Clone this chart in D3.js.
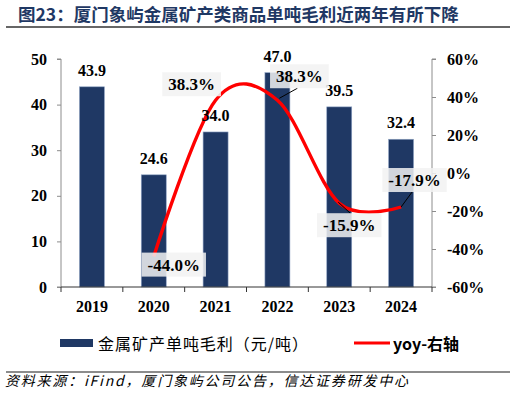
<!DOCTYPE html>
<html><head><meta charset="utf-8">
<script src="https://cdn.jsdelivr.net/npm/d3@7/dist/d3.min.js"></script>
<style>
html,body{margin:0;padding:0;background:#fff;}
svg{display:block;}
</style></head>
<body>
<script>
const years = ["2019","2020","2021","2022","2023","2024"];
const margin = [43.9, 24.6, 34.0, 47.0, 39.5, 32.4];
const yoyYears = ["2020","2021","2022","2023","2024"];
const yoy = [-0.440, 0.383, 0.383, -0.159, -0.179];
const leftTicks = [0,10,20,30,40,50];
const rightTicks = [-0.6,-0.4,-0.2,0,0.2,0.4,0.6];
const title = "图23：厦门象屿金属矿产类商品单吨毛利近两年有所下降";
const source = "资料来源：iFind，厦门象屿公司公告，信达证券研发中心";
const barName = "金属矿产单吨毛利（元/吨）";
const lineName = "yoy-右轴";
// label placement offsets (box center relative to point) and leader lines
const yoyLabelOffsets = [[20,8],[-24,-16],[22,-24],[10,22],[13.5,-27]];
const yoyLeaders = [null,null,[[2,-2],[20,-12]],[[-1,-1],[11,10]],[[0,0],[11,-15]]];

const W=516,H=397;
const svg=d3.select("body").append("svg").attr("width",W).attr("height",H);
const serif="'Liberation Serif','Times New Roman',serif";
const cjk="'Noto Sans CJK SC','Noto Sans',sans-serif";

// title
svg.append("text").attr("x",18).attr("y",21).attr("font-family",cjk).attr("font-weight","bold")
  .attr("font-size",17.5).attr("fill","#1f3864").text(title);
svg.append("line").attr("x1",6).attr("x2",510).attr("y1",27).attr("y2",27).attr("stroke","#666").attr("stroke-width",2);

const x0=61,x1=432,yB=287,yT=59;
const x=d3.scaleBand().domain(years).range([x0,x1]).paddingInner(0.596).paddingOuter(0.298);
const step=x.step();
const yL=d3.scaleLinear().domain([0,50]).range([yB,yT]);
const yR=d3.scaleLinear().domain([-0.6,0.6]).range([yB,yT]);

// axes
const gL=svg.append("g").attr("transform",`translate(${x0},0)`)
  .call(d3.axisLeft(yL).tickValues(leftTicks).tickSize(4).tickPadding(10).tickFormat(d3.format("d")));
const gR=svg.append("g").attr("transform",`translate(${x1},0)`)
  .call(d3.axisRight(yR).tickValues(rightTicks).tickSize(4).tickPadding(11).tickFormat(d=>Math.round(d*100)+"%"));
[gL,gR].forEach(g=>{
  g.select(".domain").attr("stroke","#8c8c8c");
  g.selectAll(".tick line").attr("stroke","#8c8c8c");
  g.selectAll("text").attr("font-family",serif).attr("font-weight","bold").attr("font-size",16).attr("fill","#000");
});
gR.select(".domain").attr("d",`M4,${yT}H0V${yB}H4`);
gL.select(".domain").attr("d",`M-4,${yT}H0V${yB}H-4`);

// bars
svg.append("g").selectAll("rect").data(years).join("rect")
  .attr("x",d=>x(d)).attr("width",x.bandwidth())
  .attr("y",(d,i)=>yL(margin[i])).attr("height",(d,i)=>yB-yL(margin[i]))
  .attr("fill","#1f3864").attr("stroke","#8fa3c4").attr("stroke-width",0.6);

// bottom axis
const gx=svg.append("g").attr("transform",`translate(0,${yB})`);
gx.append("line").attr("x1",x0).attr("x2",x1).attr("stroke","#333").attr("stroke-width",1);
gx.selectAll("line.tk").data(d3.range(years.length+1)).join("line").attr("class","tk")
  .attr("x1",i=>x0+i*step).attr("x2",i=>x0+i*step).attr("y1",0).attr("y2",5).attr("stroke","#333");
gx.selectAll("text").data(years).join("text")
  .attr("x",d=>x(d)+x.bandwidth()/2).attr("y",25).attr("text-anchor","middle")
  .attr("font-family",serif).attr("font-weight","bold").attr("font-size",16).text(d=>d);

// line labels boxes first (line drawn over them)
const gLab=svg.append("g");
const pts=yoyYears.map((d,i)=>[x(d)+x.bandwidth()/2,yR(yoy[i])]);

// line
const linePath=svg.append("path").attr("d",d3.line().curve(d3.curveCardinal.tension(0))(pts))
  .attr("fill","none").attr("stroke","#ff0000").attr("stroke-width",3.4);

pts.forEach((p,i)=>{
  const [dx,dy]=yoyLabelOffsets[i];
  const cx=p[0]+dx, cy=p[1]+dy;
  const lead=yoyLeaders[i];
  if(lead){
    gLab.append("line").attr("x1",p[0]+lead[0][0]).attr("y1",p[1]+lead[0][1])
      .attr("x2",p[0]+lead[1][0]).attr("y2",p[1]+lead[1][1]).attr("stroke","#000").attr("stroke-width",1);
  }
  const r=gLab.append("rect");
  const t=gLab.append("text").attr("x",cx).attr("y",cy+6).attr("text-anchor","middle")
    .attr("font-family",serif).attr("font-weight","bold").attr("font-size",17).text((yoy[i]*100).toFixed(1)+"%");
  const bb=t.node().getBBox();
  const bw=bb.width+12, bh=24;
  r.attr("x",cx-bw/2).attr("y",cy-bh/2).attr("width",bw).attr("height",bh).attr("fill","rgba(242,242,242,0.85)");
});
// keep 2022 label box above the line as in reference
gLab.raise();

// bar labels
svg.append("g").selectAll("text").data(years).join("text")
  .attr("x",d=>x(d)+x.bandwidth()/2).attr("y",(d,i)=>yL(margin[i])-11).attr("text-anchor","middle")
  .attr("font-family",serif).attr("font-weight","bold").attr("font-size",16).text((d,i)=>margin[i].toFixed(1));
// 2022 label box covers its bar label
svg.node().appendChild(gLab.node());

// legend
svg.append("rect").attr("x",60).attr("y",339).attr("width",33).attr("height",8).attr("fill","#1f3864");
svg.append("text").attr("x",98).attr("y",350).attr("font-family",cjk).attr("font-size",16)
  .attr("textLength",210).attr("lengthAdjust","spacing").text(barName);
svg.append("line").attr("x1",354).attr("x2",390).attr("y1",343).attr("y2",343).attr("stroke","#ff0000").attr("stroke-width",3);
svg.append("text").attr("x",393).attr("y",350).attr("font-family",cjk).attr("font-weight","bold").attr("font-size",16).text(lineName);

// footer
svg.append("line").attr("x1",6).attr("x2",510).attr("y1",372).attr("y2",372).attr("stroke","#666").attr("stroke-width",1.5);
svg.append("text").attr("x",5).attr("y",386).attr("font-family",cjk).attr("font-style","italic")
  .attr("font-size",14).attr("textLength",403).attr("lengthAdjust","spacing").text(source);
</script>
</body></html>
